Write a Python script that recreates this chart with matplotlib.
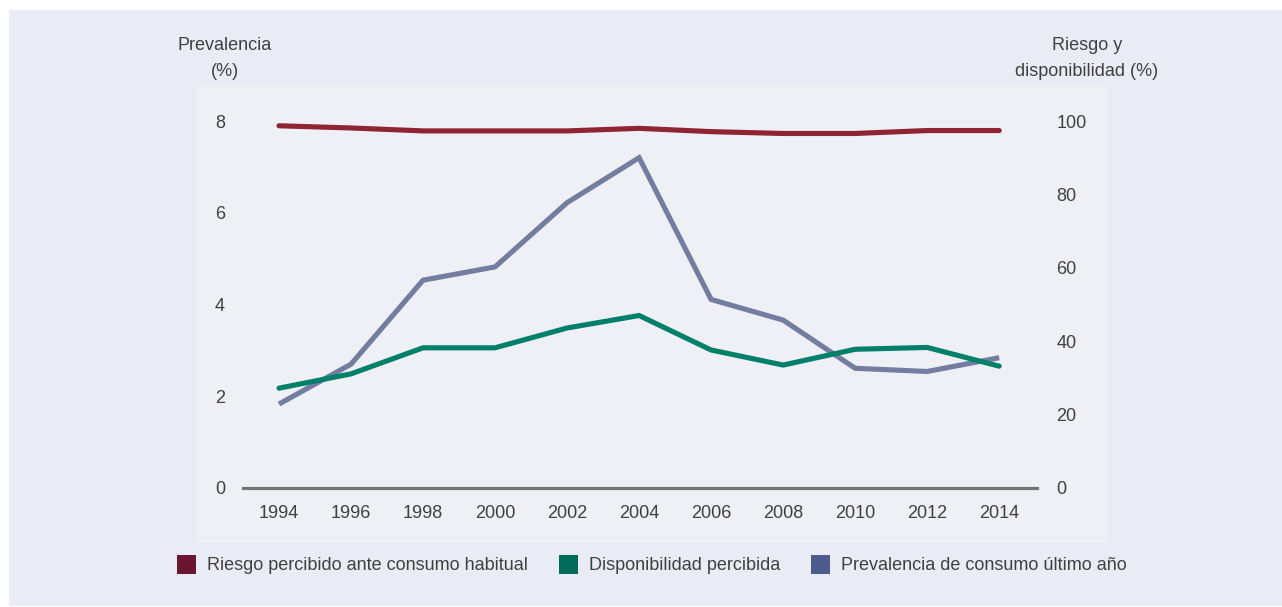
import matplotlib
matplotlib.use("Agg")
import matplotlib.pyplot as plt
from matplotlib.patches import Rectangle

years = [1994, 1996, 1998, 2000, 2002, 2004, 2006, 2008, 2010, 2012, 2014]
riesgo = [98.7, 98.1, 97.3, 97.3, 97.3, 98.0, 97.1, 96.6, 96.6, 97.4, 97.4]
disponibilidad = [27.2, 31.1, 38.2, 38.2, 43.6, 47.0, 37.6, 33.5, 37.8, 38.3, 33.2]
prevalencia = [1.83, 2.70, 4.53, 4.82, 6.22, 7.20, 4.11, 3.66, 2.61, 2.54, 2.84]

left_ticks = [0, 2, 4, 6, 8]
right_ticks = [0, 20, 40, 60, 80, 100]
x_ticks = years

legend_labels = ["Riesgo percibido ante consumo habitual",
                 "Disponibilidad percibida",
                 "Prevalencia de consumo último año"]

plt.rcParams['font.family'] = ['Liberation Sans', 'DejaVu Sans']

W, H = 1282, 607
fig = plt.figure(figsize=(W / 100, H / 100), dpi=100, facecolor='white')

def px(x, y):
    return x / W, 1 - y / H

# background panels
x0, y0 = px(9, 606)
x1, y1 = px(1282, 10)
fig.patches.append(Rectangle((x0, y0), x1 - x0, y1 - y0, transform=fig.transFigure,
                             facecolor='#e9ecf4', edgecolor='none', zorder=-2))
x0, y0 = px(197, 543)
x1, y1 = px(1107, 85)
fig.patches.append(Rectangle((x0, y0), x1 - x0, y1 - y0, transform=fig.transFigure,
                             facecolor='#eef0f5', edgecolor='none', zorder=-1))

ax_left, ax_bottom = px(243, 488)
ax_right, ax_top = px(1037, 121)
ax = fig.add_axes([ax_left, ax_bottom, ax_right - ax_left, ax_top - ax_bottom])
ax.patch.set_visible(False)
ax2 = ax.twinx()
ax2.patch.set_visible(False)

text_color = '#404040'

ax.plot(years, prevalencia, color='#737da0', lw=3.7, solid_capstyle='butt',
        solid_joinstyle='miter', clip_on=False, zorder=3)
ax2.plot(years, disponibilidad, color='#00806a', lw=3.7, solid_capstyle='round',
         solid_joinstyle='miter', clip_on=False, zorder=3)
ax2.plot(years, riesgo, color='#8e2434', lw=3.7, solid_capstyle='round',
         clip_on=False, zorder=3)

ax.set_xlim(1993, 2015.05)
ax.set_ylim(0, 8)
ax2.set_ylim(0, 100)

for a in (ax, ax2):
    for s in a.spines.values():
        s.set_visible(False)

ax.axhline(0, color='#747474', lw=2.3, zorder=2, clip_on=False)

ax.set_xticks(x_ticks)
ax.set_xticklabels([str(y) for y in x_ticks])
ax.set_yticks(left_ticks)
ax2.set_yticks(right_ticks)
ax.tick_params(axis='x', length=0, pad=12, labelsize=13, labelcolor=text_color)
ax.tick_params(axis='y', length=0, pad=13, labelsize=13, labelcolor=text_color)
ax2.tick_params(axis='y', length=0, pad=14, labelsize=13, labelcolor=text_color)

# axis titles
for (xx, yy, t) in [(225, 45, "Prevalencia"), (225, 71, "(%)"),
                    (1087, 45, "Riesgo y"), (1087, 71, "disponibilidad (%)")]:
    fx, fy = px(xx, yy)
    fig.text(fx, fy, t, ha='center', va='center', fontsize=13, color=text_color)

# legend
leg_colors = ['#6b1530', '#006b58', '#4d5b8f']
patch_x = [177, 559, 811]
for c, pxx, lab in zip(leg_colors, patch_x, legend_labels):
    fx0, fy0 = px(pxx, 574)
    fx1, fy1 = px(pxx + 19, 555)
    fig.patches.append(Rectangle((fx0, fy0), fx1 - fx0, fy1 - fy0, transform=fig.transFigure,
                                 facecolor=c, edgecolor='none'))
    tx, ty = px(pxx + 30, 566)
    fig.text(tx, ty, lab, ha='left', va='center', fontsize=13, color=text_color)

fig.savefig('out.png', dpi=100, facecolor='white')
